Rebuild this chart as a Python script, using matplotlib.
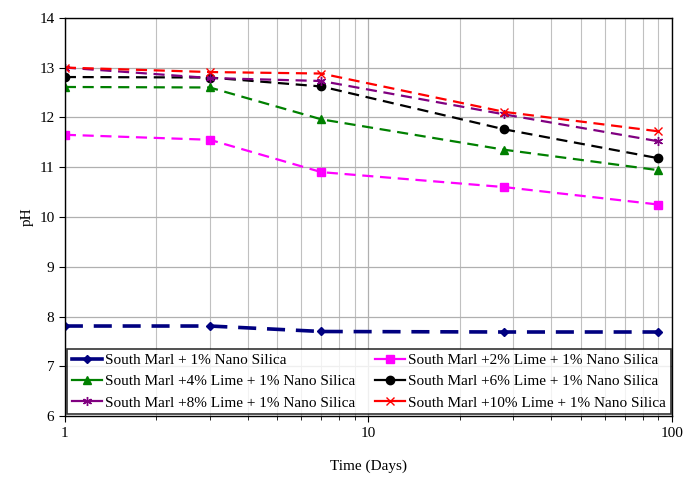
import matplotlib.pyplot as plt
from matplotlib.ticker import LogLocator, FixedLocator, NullFormatter

plt.rcParams['font.family'] = ['Liberation Serif', 'DejaVu Serif']

# Datos de pH vs tiempo
dias = [1, 3, 7, 28, 90]
ph_0 = [7.81, 7.81, 7.70, 7.69, 7.69]
ph_2 = [11.65, 11.55, 10.90, 10.60, 10.25]
ph_4 = [12.61, 12.60, 11.96, 11.35, 10.94]
ph_6 = [12.81, 12.80, 12.62, 11.76, 11.18]
ph_8 = [13.00, 12.79, 12.73, 12.06, 11.52]
ph_10 = [13.00, 12.91, 12.88, 12.11, 11.72]

etiquetas = [
    'South Marl + 1% Nano Silica',
    'South Marl +2% Lime + 1% Nano Silica',
    'South Marl +4% Lime + 1% Nano Silica',
    'South Marl +6% Lime + 1% Nano Silica',
    'South Marl +8% Lime + 1% Nano Silica',
    'South Marl +10% Lime + 1% Nano Silica',
]

fig = plt.figure(figsize=(6.9, 4.8), dpi=100)
ax = fig.add_axes([0.094, 0.133, 0.880, 0.830])

dash = (0, (5, 3))
ax.plot(dias, ph_0, color='#000080', ls=dash, lw=2.6, marker='D', ms=4.5, label=etiquetas[0])
ax.plot(dias, ph_2, color='#ff00ff', ls=dash, lw=1.6, marker='s', ms=6, label=etiquetas[1])
ax.plot(dias, ph_4, color='#008000', ls=dash, lw=1.6, marker='^', ms=6, label=etiquetas[2])
ax.plot(dias, ph_6, color='black', ls=dash, lw=1.6, marker='o', ms=6, label=etiquetas[3])
ax.plot(dias, ph_8, color='#800080', ls=dash, lw=1.6, marker=(6, 2, 0), ms=6.5, label=etiquetas[4])
ax.plot(dias, ph_10, color='#ff0000', ls=dash, lw=1.6, marker='x', ms=6, label=etiquetas[5])

ax.set_xscale('log')
ax.set_xlim(1, 100)
ax.set_ylim(6, 14)
ax.yaxis.set_major_locator(FixedLocator(range(6, 15)))
ax.xaxis.set_major_locator(FixedLocator([1, 10, 100]))
ax.set_xticklabels(['1', '10', '100'])
ax.xaxis.set_minor_locator(LogLocator(base=10, subs=range(2, 10)))
ax.xaxis.set_minor_formatter(NullFormatter())

ax.grid(True, which='major', color='#b0b0b0', lw=0.9)
ax.grid(True, which='minor', axis='x', color='#c0c0c0', lw=0.8)
ax.set_axisbelow(True)

ax.tick_params(axis='both', which='major', labelsize=11, direction='out', length=4, color='black')
ax.tick_params(axis='x', which='minor', direction='out', length=3)
for s in ax.spines.values():
    s.set_color('black')
    s.set_linewidth(1.0)

ax.set_xlabel('Time (Days)', fontsize=11, labelpad=14)
ax.set_ylabel('pH', fontsize=11)

# orden por filas como en la leyenda original
h, l = ax.get_legend_handles_labels()
orden = [0, 2, 4, 1, 3, 5]
leg = ax.legend([h[i] for i in orden], [l[i] for i in orden],
                loc='lower left', bbox_to_anchor=(0.004, 0.005, 0.994, 0.16), mode='expand',
                ncol=2, fontsize=11, frameon=True, fancybox=False, edgecolor='black',
                handlelength=2.0, handletextpad=0.2, borderpad=0.3, labelspacing=0.5,
                columnspacing=0.8, borderaxespad=0)
leg.get_frame().set_linewidth(1.2)
for linea in leg.get_lines():
    linea.set_linestyle('-')

plt.savefig('out.png', dpi=100)
